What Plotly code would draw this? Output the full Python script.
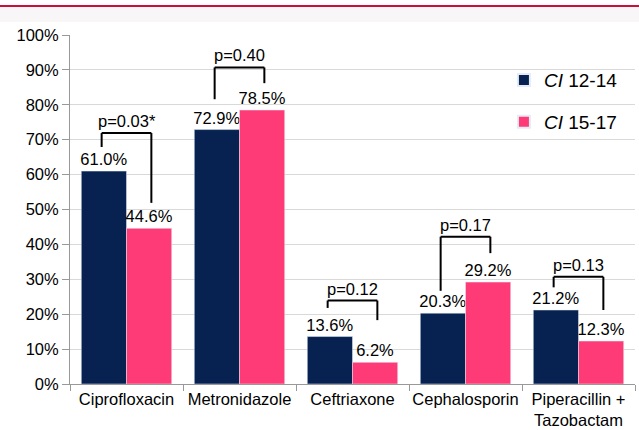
import plotly.graph_objects as go

categories = ["Ciprofloxacin", "Metronidazole", "Ceftriaxone", "Cephalosporin", "Piperacillin +<br>Tazobactam"]
ci_12_14 = [61.0, 72.9, 13.6, 20.3, 21.2]
ci_15_17 = [44.6, 78.5, 6.2, 29.2, 12.3]
p_labels = ["p=0.03*", "p=0.40", "p=0.12", "p=0.17", "p=0.13"]
bracket_top = [71.9, 90.7, 23.9, 42.2, 30.7]
left_leg_bottom = [67.9, 81.6, 21.8, 26.7, 27.7]
right_leg_bottom = [51.9, 86.2, 18.3, 37.5, 21.2]
y_ticks = list(range(0, 101, 10))

NAVY = "#072251"
PINK = "#fe3b77"
FONT = "Liberation Sans, Arial, sans-serif"

fig = go.Figure()
fig.add_bar(x=categories, y=ci_12_14, name="<i>CI</i> 12-14", marker_color=NAVY,
            text=[f"{v:.1f}%" for v in ci_12_14], textposition="outside", constraintext="none",
            textfont=dict(size=16.5, color="black"), cliponaxis=False, legendgroup="a")
fig.add_bar(x=categories, y=ci_15_17, name="<i>CI</i> 15-17", marker_color=PINK,
            text=[f"{v:.1f}%" for v in ci_15_17], textposition="outside", constraintext="none",
            textfont=dict(size=16.5, color="black"), cliponaxis=False, legendgroup="b")

shapes = []
off_l, off_r = -0.22, 0.22
for i in range(len(categories)):
    xl, xr = i + off_l, i + off_r
    line = dict(color="black", width=2)
    shapes.append(dict(type="line", xref="x", yref="y", x0=xl, x1=xl, y0=left_leg_bottom[i], y1=bracket_top[i], line=line))
    shapes.append(dict(type="line", xref="x", yref="y", x0=xl, x1=xr, y0=bracket_top[i], y1=bracket_top[i], line=line))
    shapes.append(dict(type="line", xref="x", yref="y", x0=xr, x1=xr, y0=bracket_top[i], y1=right_leg_bottom[i], line=line))
    fig.add_annotation(x=i, y=bracket_top[i], xref="x", yref="y", text=p_labels[i], showarrow=False,
                       yanchor="bottom", yshift=1, font=dict(size=16.5, color="black"))

# top decoration strip
shapes.append(dict(type="rect", xref="paper", yref="paper", x0=-0.2, x1=1.05, y0=1.037, y1=1.083,
                   fillcolor="#f8f6f7", line=dict(width=0), layer="below"))
shapes.append(dict(type="line", xref="paper", yref="paper", x0=-0.2, x1=1.05, y0=1.083, y1=1.083,
                   line=dict(color="#c8103a", width=2)))

fig.update_layout(
    width=639, height=430,
    margin=dict(l=70, r=4, t=35, b=46),
    paper_bgcolor="white", plot_bgcolor="white",
    font=dict(family=FONT, size=16.5, color="black"),
    barmode="group", bargap=0.2, bargroupgap=0,
    shapes=shapes,
    showlegend=True,
    legend=dict(x=0.768, y=0.925, xanchor="left", yanchor="top", bgcolor="rgba(0,0,0,0)",
                font=dict(size=19, family=FONT), tracegroupgap=14, itemsizing="constant"),
    xaxis=dict(type="category", tickson="boundaries", ticks="outside", ticklen=6, tickcolor="#999",
               showline=True, linecolor="#999", linewidth=1, tickfont=dict(size=16.5),
               tickangle=0, automargin=False, ticklabelstandoff=0),
    yaxis=dict(range=[0, 100], tickvals=y_ticks, ticktext=[f"{t}%" for t in y_ticks],
               showgrid=True, gridcolor="#d9d9d9", gridwidth=1, ticks="outside", ticklen=7,
               tickcolor="#999", showline=True, linecolor="#999", linewidth=1, zeroline=False,
               tickfont=dict(size=16.5), automargin=False),
)

fig.write_html("out.html", config={"responsive": False, "displayModeBar": False},
               post_script="document.body.style.margin='0';document.body.style.overflow='hidden';")
